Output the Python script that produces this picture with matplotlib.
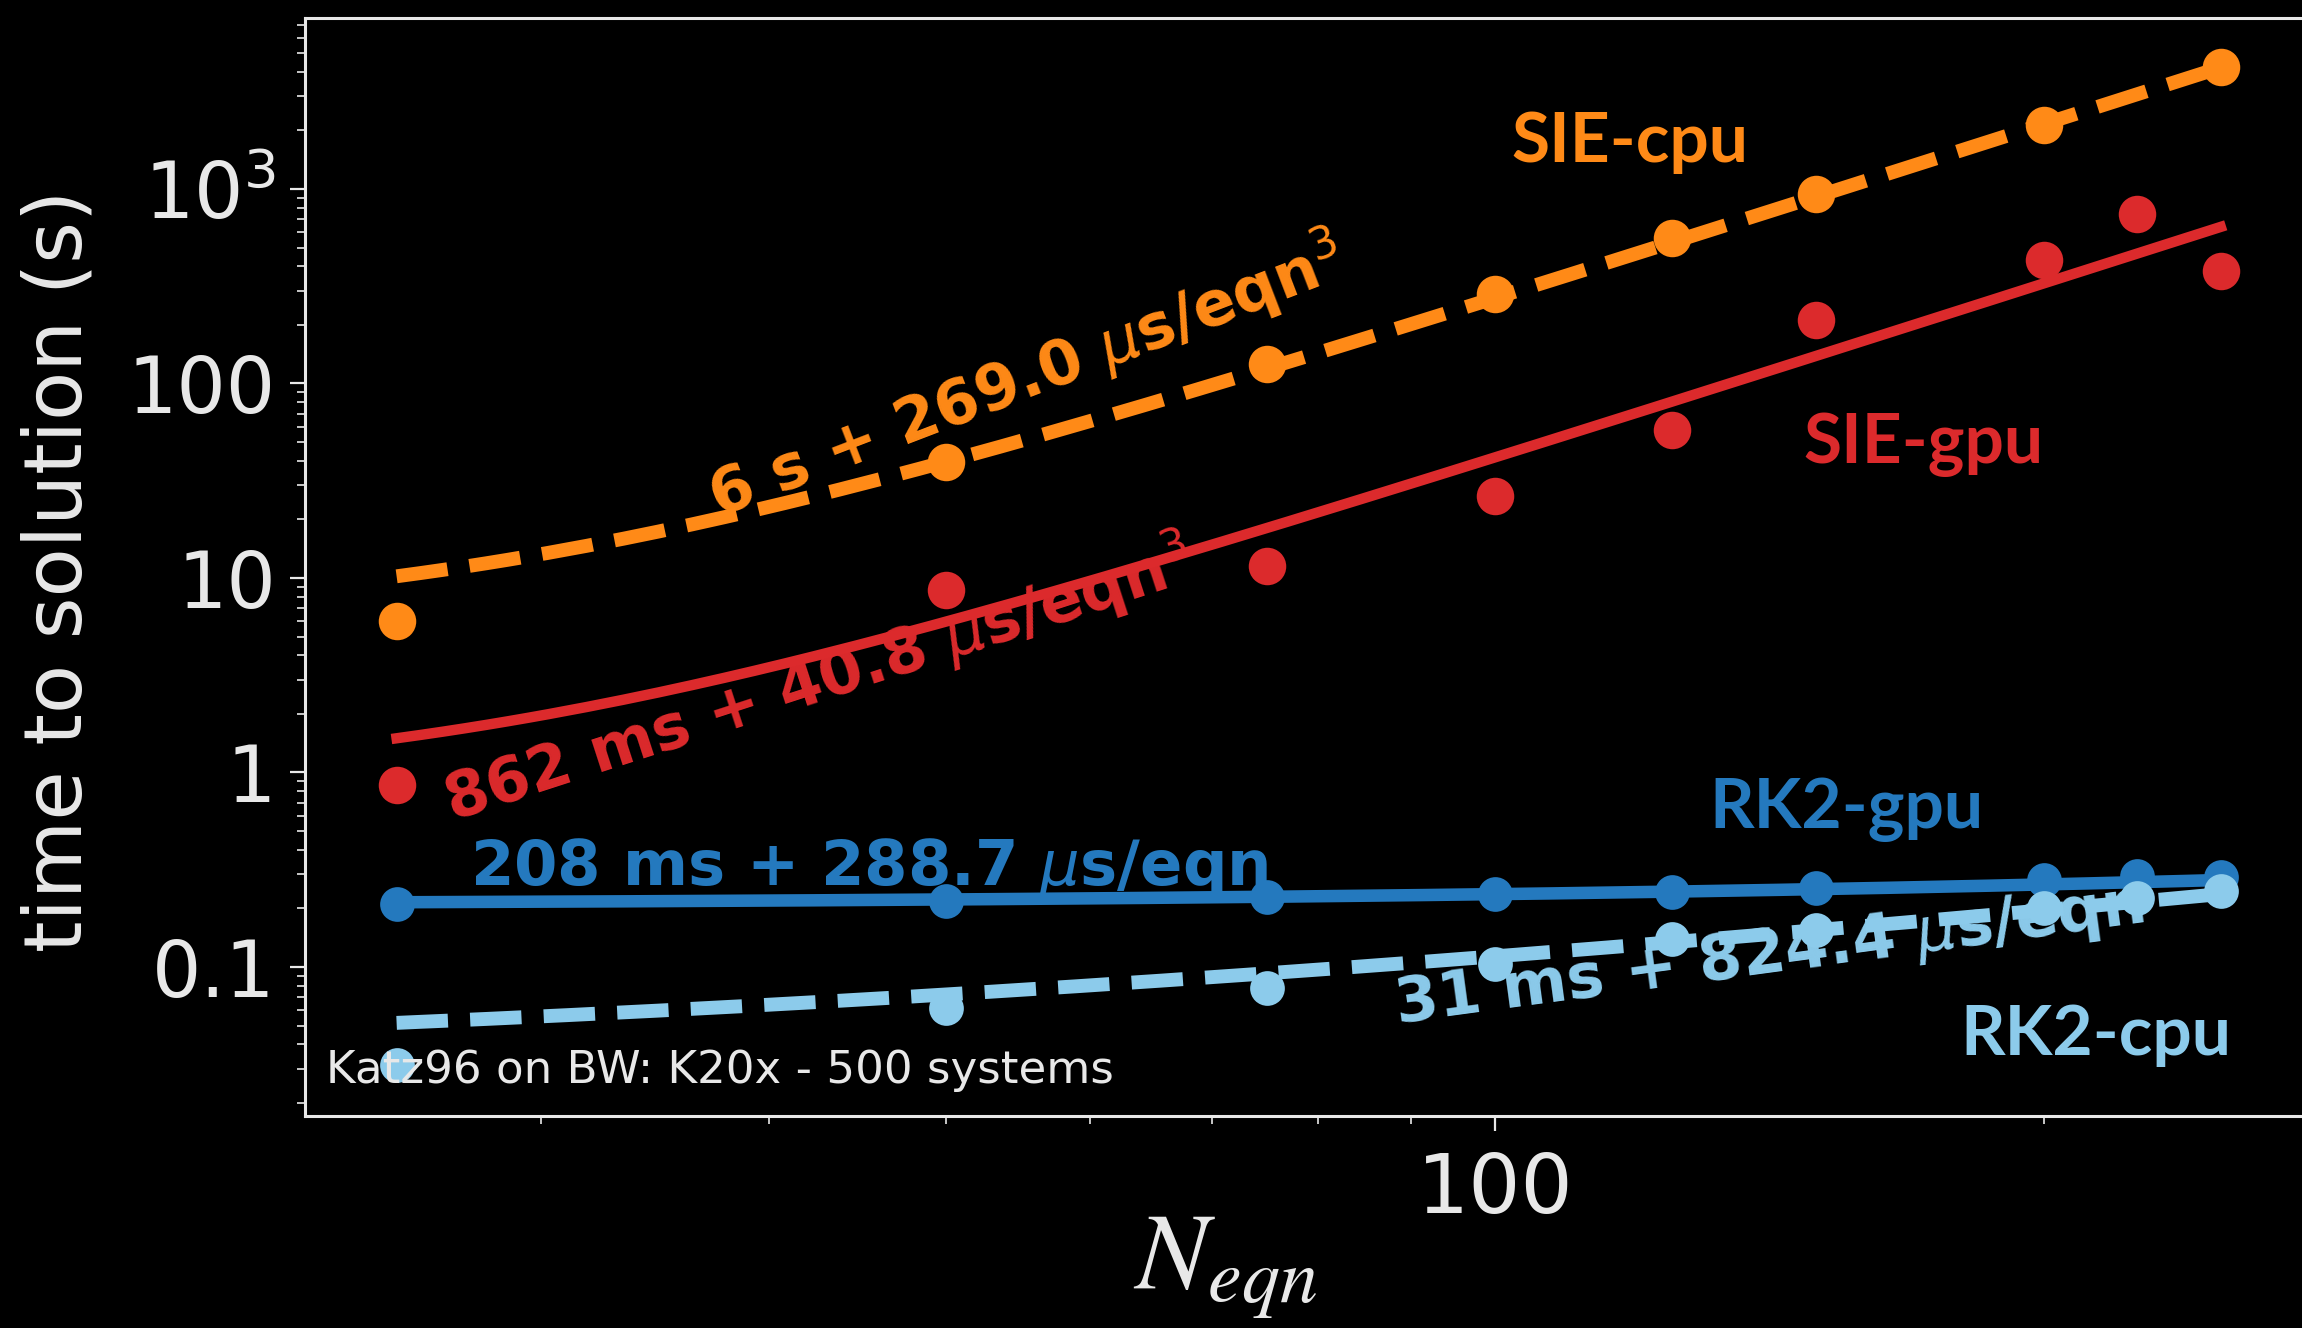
import matplotlib
matplotlib.use("Agg")
import matplotlib.pyplot as plt
import numpy as np
from matplotlib.ticker import FixedLocator, FixedFormatter, NullFormatter, LogLocator

### data ###
n_eqn = [25, 50, 75, 100, 125, 150, 200, 225, 250]
sie_cpu_n = [25, 50, 75, 100, 125, 150, 200, 250]
sie_cpu_t = [6.0, 39.5, 126, 290, 560, 943, 2130, 4220]
sie_gpu_t = [0.86, 8.7, 11.5, 26.4, 57.7, 212, 431, 743, 377]
rk2_gpu_t = [0.211, 0.218, 0.229, 0.237, 0.243, 0.255, 0.279, 0.295, 0.29]
rk2_cpu_t = [0.0313, 0.0617, 0.078, 0.104, 0.139, 0.155, 0.201, 0.226, 0.246]

# fit parameters: offset (s), slope (s), power of N
fit_sie_cpu = (6.0, 269.0e-6, 3)
fit_sie_gpu = (0.862, 40.8e-6, 3)
fit_rk2_gpu = (0.208, 288.7e-6, 1)
fit_rk2_cpu = (0.031, 824.4e-6, 1)

ytick_vals = [0.1, 1, 10, 100, 1000]
ytick_labels = ["0.1", "1", "10", "100", r"$10^3$"]

c_orange = "#ff8a17"
c_red = "#dc2a2c"
c_blue = "#2479be"
c_light = "#8ccbeb"
fg = "#e8e8e8"

plt.rcParams["mathtext.fontset"] = "dejavusans"

fig = plt.figure(figsize=(23.02, 13.28), dpi=100, facecolor="black")
ax = fig.add_axes([305 / 2302, 1 - 1116 / 1328, 2005 / 2302, 1098 / 1328])
ax.set_facecolor("black")

n_fit = np.linspace(25, 250, 300)


def fit(p):
    return p[0] + p[1] * n_fit ** p[2]


ax.plot(n_fit, fit(fit_sie_cpu), "--", color=c_orange, lw=10)
ax.plot(sie_cpu_n, sie_cpu_t, "o", color=c_orange, ms=27, mec="none")

ax.plot(n_fit, fit(fit_sie_gpu), "-", color=c_red, lw=7.5)
ax.plot(n_eqn, sie_gpu_t, "o", color=c_red, ms=27, mec="none")

ax.plot(n_fit, fit(fit_rk2_gpu), "-", color=c_blue, lw=9)
ax.plot(n_eqn, rk2_gpu_t, "o", color=c_blue, ms=25, mec="none")

ax.plot(n_fit, fit(fit_rk2_cpu), "--", color=c_light, lw=10)
ax.plot(n_eqn, rk2_cpu_t, "o", color=c_light, ms=25, mec="none")

ax.set_xscale("log")
ax.set_yscale("log")
ax.set_xlim(22.27, 279.8)
ax.set_ylim(0.01714, 7568)

ax.xaxis.set_major_locator(FixedLocator([100]))
ax.xaxis.set_major_formatter(FixedFormatter(["100"]))
ax.xaxis.set_minor_locator(LogLocator(base=10, subs=np.arange(2, 10)))
ax.xaxis.set_minor_formatter(NullFormatter())
ax.yaxis.set_major_locator(FixedLocator(ytick_vals))
ax.yaxis.set_major_formatter(FixedFormatter(ytick_labels))
ax.yaxis.set_minor_locator(LogLocator(base=10, subs=np.arange(2, 10), numticks=20))
ax.yaxis.set_minor_formatter(NullFormatter())

ax.tick_params(which="major", length=11, width=1.6, color=fg, labelcolor=fg,
               labelsize=56, pad=10)
ax.tick_params(which="minor", length=6, width=1.2, color=fg)
ax.tick_params(axis="x", which="major", pad=14, labelsize=59)
for side in ["left", "bottom", "top"]:
    ax.spines[side].set_color(fg)
    ax.spines[side].set_linewidth(2.2)
ax.spines["right"].set_visible(False)

fig.text(60 / 2302, 1 - 571 / 1328, "time to solution (s)", rotation=90,
         ha="center", va="center", fontsize=58, color=fg)
with plt.rc_context({"mathtext.fontset": "stix"}):
    fig.text(1225 / 2302, 1 - 1268 / 1328, r"$N_{eqn}$", ha="center", va="center",
             fontsize=78, color=fg)

# series labels
lab = dict(transform=ax.transAxes, ha="center", va="baseline", fontsize=50,
           fontweight="bold", family="Lato")
ax.text(0.661, 0.869, "SIE-cpu", color=c_orange, **lab)
ax.text(0.807, 0.595, "SIE-gpu", color=c_red, **lab)
ax.text(0.769, 0.262, "RK2-gpu", color=c_blue, **lab)
ax.text(0.893, 0.0556, "RK2-cpu", color=c_light, **lab)

# fit labels
fl = dict(transform=ax.transAxes, ha="left", va="baseline", fontsize=45,
          fontweight="bold", rotation_mode="anchor")
ax.text(0.206, 0.5446, r"6 s + 269.0 $\mu$s/eqn$^3$", color=c_orange, rotation=21, **fl)
ax.text(0.0733, 0.2678, r"862 ms + 40.8 $\mu$s/eqn$^3$", color=c_red, rotation=18, **fl)
ax.text(0.0823, 0.2104, r"208 ms + 288.7 $\mu$s/eqn", color=c_blue, rotation=0, **fl)
ax.text(0.5446, 0.0847, r"31 ms + 824.4 $\mu$s/eqn", color=c_light, rotation=7.7, **fl)

ax.text(0.0105, 0.030, "Katz96 on BW: K20x - 500 systems", transform=ax.transAxes,
        ha="left", va="baseline", fontsize=32.5, color=fg)

fig.savefig("out.png", dpi=100, facecolor="black")
